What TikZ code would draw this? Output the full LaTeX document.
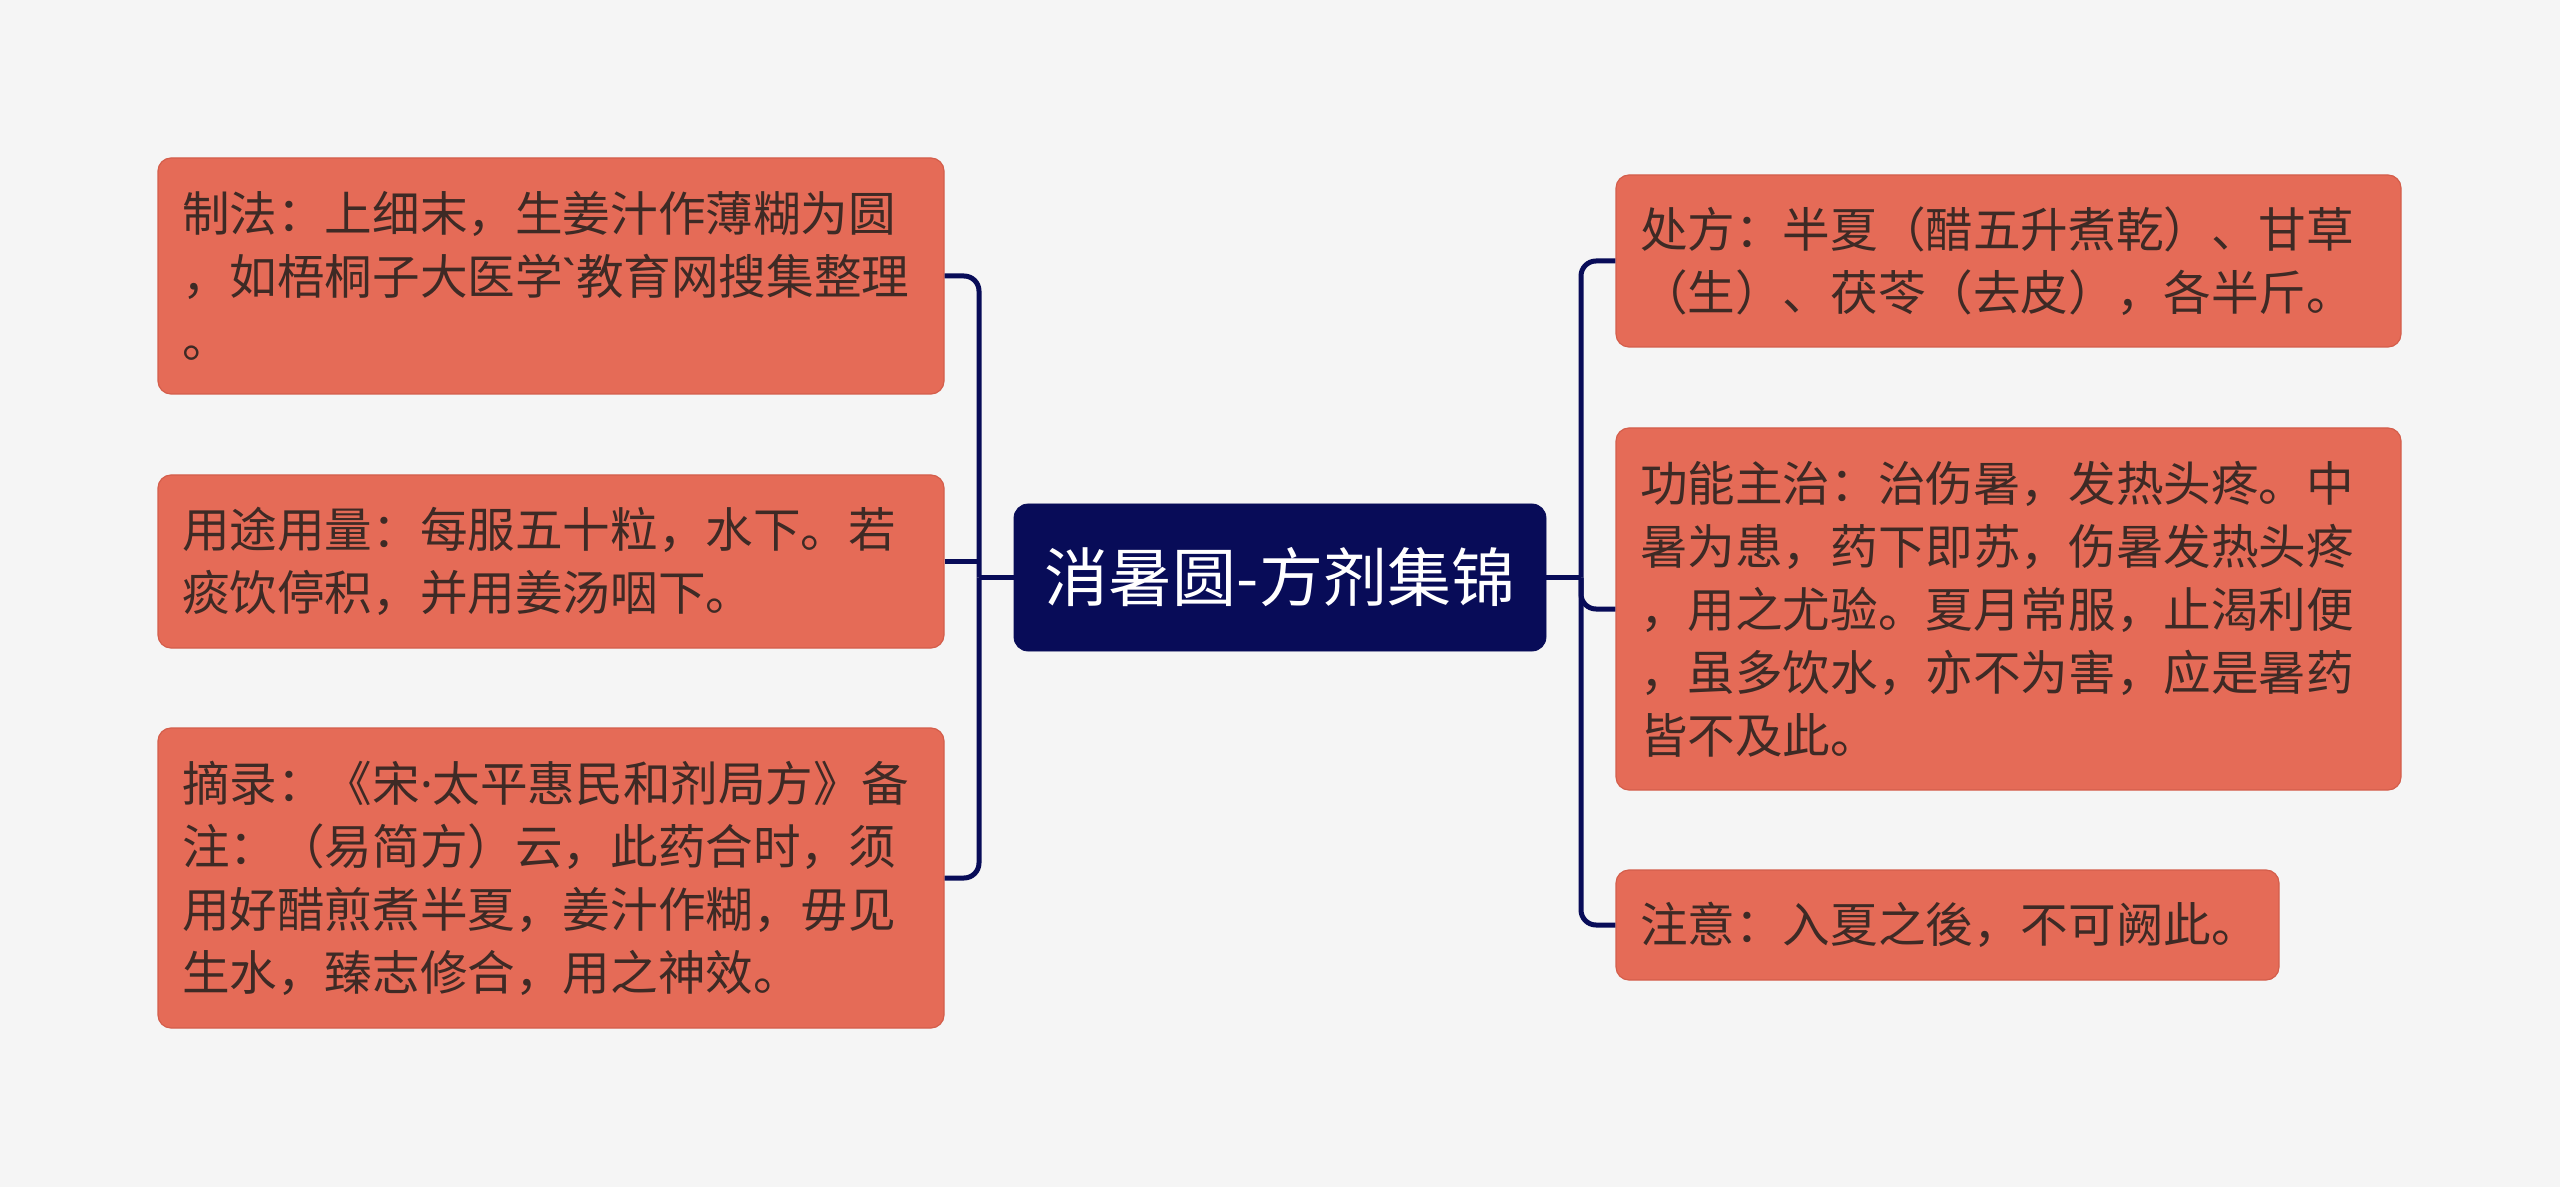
\documentclass[tikz,border=0pt]{standalone}
\usepackage{fontspec}
\setmainfont{Noto Sans CJK SC}[Ligatures=TeXOff]
\newfontfamily\latinfont{Noto Sans}
\definecolor{bgcol}{HTML}{F5F5F5}
\definecolor{leaffill}{HTML}{E56B57}
\definecolor{leafdraw}{HTML}{D45E4B}
\definecolor{leaftext}{HTML}{3E2A25}
\definecolor{navy}{HTML}{080C58}
\begin{document}
\begin{tikzpicture}[x=0.5pt,y=-0.5pt,
  leaf/.style={rectangle, rounded corners=6.5pt, fill=leaffill, draw=leafdraw, line width=0.6pt,
    text=leaftext, font=\fontsize{23.8pt}{31.5pt}\selectfont, align=left,
    inner xsep=12pt, inner ysep=0pt},
  rootbox/.style={rectangle, rounded corners=7pt, fill=navy, draw=navy, text=white,
    font=\fontsize{32pt}{36pt}\selectfont, minimum width=266pt, minimum height=73.5pt, inner sep=0pt},
  conn/.style={draw=navy, line width=2.5pt},
  branchline/.style={conn, rounded corners=7.5pt}]
\fill[bgcol] (0,0) rectangle (2560,1187);
\useasboundingbox (0,0) rectangle (2560,1187);

\node[rootbox] (c) at (1280,577.5) {消暑圆-方剂集锦};

\node[leaf, text width=369pt, minimum height=118pt] (L1) at (551,276)
  {制法：上细末，生姜汁作薄糊为圆\\，如梧桐子大医学{\latinfont\symbol{96}}教育网搜集整理\\。};
\node[leaf, text width=369pt, minimum height=86.5pt] (L2) at (551,561.5)
  {用途用量：每服五十粒，水下。若\\痰饮停积，并用姜汤咽下。};
\node[leaf, text width=369pt, minimum height=150pt] (L3) at (551,878)
  {摘录：《宋{\latinfont ·}太平惠民和剂局方》备\\注：（易简方）云，此药合时，须\\用好醋煎煮半夏，姜汁作糊，毋见\\生水，臻志修合，用之神效。};

\node[leaf, text width=368.5pt, minimum height=86pt] (R1) at (2008.5,261)
  {处方：半夏（醋五升煮乾）、甘草\\（生）、茯苓（去皮），各半斤。};
\node[leaf, text width=368.5pt, minimum height=181pt] (R2) at (2008.5,609)
  {功能主治：治伤暑，发热头疼。中\\暑为患，药下即苏，伤暑发热头疼\\，用之尤验。夏月常服，止渴利便\\，虽多饮水，亦不为害，应是暑药\\皆不及此。};
\node[leaf, text width=307.5pt, minimum height=55pt] (R3) at (1947.5,925)
  {注意：入夏之後，不可阙此。};

\coordinate (lb) at (979,577.5);
\coordinate (rb) at (1581,577.5);

\draw[conn] (c.west) -- (lb);
\draw[conn] (c.east) -- (rb);
\draw[branchline] (lb) |- (L1.east);
\draw[conn] (L2.east) -- (L2.east -| lb);
\draw[branchline] (lb) |- (L3.east);
\draw[branchline] (rb) |- (R1.west);
\draw[branchline] (rb) |- (R2.west);
\draw[branchline] (rb) |- (R3.west);
\end{tikzpicture}
\end{document}
